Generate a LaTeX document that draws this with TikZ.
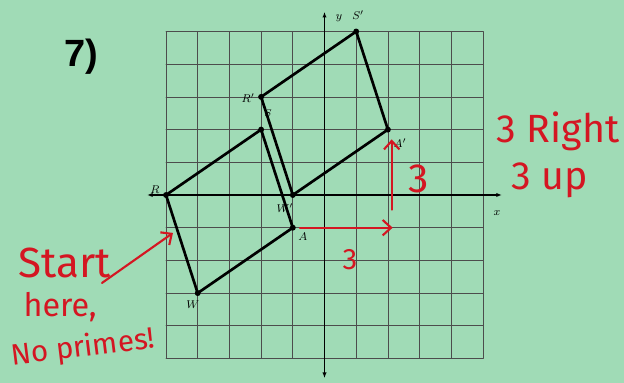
\documentclass[tikz,border=0pt]{standalone}
\usepackage{fontspec}
\setsansfont{Liberation Sans}
\newfontfamily\handfont{Fira Sans}
\usetikzlibrary{arrows.meta, positioning}

\definecolor{paper}{RGB}{160,219,182}
\definecolor{pen}{RGB}{212,22,34}

\tikzset{
  gridline/.style={black!70, line width=0.5pt},
  axisline/.style={line width=0.8pt, {Latex[length=4pt]}-{Latex[length=4pt]}},
  figline/.style={line width=1.9pt, line join=round},
  ptlabel/.style={font=\footnotesize, inner sep=1pt},
  redpen/.style={pen, line width=1.5pt, line cap=round,
    -{Straight Barb[length=6pt, width=11pt]}},
  scrawl/.style={pen, inner sep=0pt}
}

\begin{document}
\begin{tikzpicture}[
  x=0.7925cm, y=0.8175cm,
  line cap=round
]
  % Paper
  \fill[paper] (-10.237,-5.749) rectangle (9.448,5.963);
  \useasboundingbox (-10.237,-5.749) rectangle (9.448,5.963);

  % Problem number
  \node[font=\sffamily\bfseries\fontsize{27}{27}\selectfont] (num) at (-7.68,4.22) {7)};

  % Grid and axes
  \foreach \i in {-5,...,5} {
    \draw[gridline] (\i,-5) -- (\i,5);
    \draw[gridline] (-5,\i) -- (5,\i);
  }
  \draw[axisline] (-5.6,0) -- (5.6,0);
  \draw[axisline] (0,-5.6) -- (0,5.6);
  \node[ptlabel] (xlab) at (5.44,-0.55) {$x$};
  \node[ptlabel] (ylab) at (0.46,5.41) {$y$};

  % Pre-image RSAW
  \coordinate (R) at (-5,0);
  \coordinate (S) at (-2,2);
  \coordinate (A) at (-1,-1);
  \coordinate (W) at (-4,-3);
  \draw[figline] (R) -- (S) -- (A) -- (W) -- cycle;

  % Image after the translation
  \coordinate (Rp) at (-2,3);
  \coordinate (Sp) at (1,5);
  \coordinate (Ap) at (2,2);
  \coordinate (Wp) at (-1,0);
  \draw[figline] (Rp) -- (Sp) -- (Ap) -- (Wp) -- cycle;

  \foreach \p in {R,S,A,W,Rp,Sp,Ap,Wp}
    \fill (\p) circle (2.1pt);

  % Vertex labels
  \node[ptlabel] (lR) at (-5.35,0.15) {$R$};
  \node[ptlabel, font=\scriptsize] (lS) at (-1.78,2.51) {$S$};
  \node[ptlabel] (lA) at (-0.68,-1.28) {$A$};
  \node[ptlabel] (lW) at (-4.15,-3.36) {$W$};
  \node[ptlabel] (lRp) at (-2.41,2.97) {$R'$};
  \node[ptlabel] (lSp) at (1.06,5.5) {$S'$};
  \node[ptlabel] (lAp) at (2.38,1.59) {$A'$};
  \node[ptlabel] (lWp) at (-1.25,-0.40) {$W'$};

  % Red working: 3 right, 3 up
  \coordinate (rightTip) at (2.15,-1);
  \draw[redpen, shorten <=5pt] (A) -- (rightTip);
  \coordinate (upFoot) at (2.12,-0.45);
  \coordinate (upTip) at (2.12,1.7);
  \draw[redpen] (upFoot) -- (upTip);
  \node[scrawl, font=\handfont\fontsize{21}{21}\selectfont] (threeR) at (0.8,-1.99) {3};
  \node[scrawl, font=\handfont\fontsize{29}{29}\selectfont] (threeU) at (2.98,0.49) {3};
  \node[scrawl, font=\handfont\fontsize{28}{28}\selectfont] (ruleR) at (7.37,1.96) {3 Right};
  \node[scrawl, font=\handfont\fontsize{28}{28}\selectfont] (ruleU) at (7.11,0.46) {3 up};

  % Red note
  \node[scrawl, font=\handfont\fontsize{30}{30}\selectfont] (start) at (-8.19,-2.08) {Start};
  \node[scrawl, font=\handfont\fontsize{23}{23}\selectfont] (here) at (-8.34,-3.42) {here,};
  \node[scrawl, rotate=7, font=\handfont\fontsize{21}{21}\selectfont] (noprime) at (-7.62,-4.68) {No primes!};
  \coordinate (startFrom) at (-7.02,-2.69);
  \coordinate (startTo) at (-4.78,-1.16);
  \draw[redpen] (startFrom) -- (startTo);
\end{tikzpicture}
\end{document}
